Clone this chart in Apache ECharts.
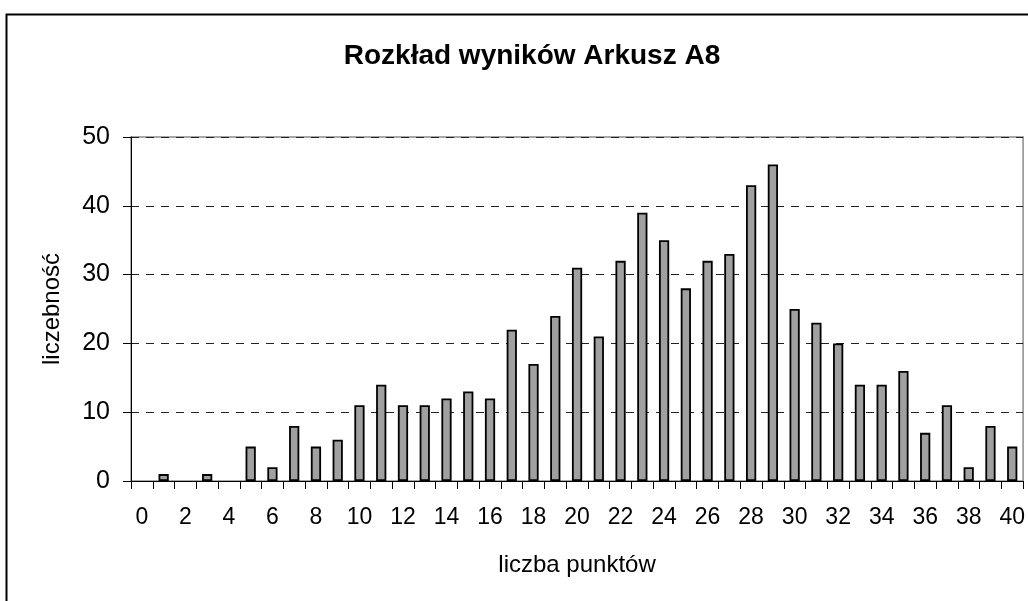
<!DOCTYPE html>
<html>
<head>
<meta charset="utf-8">
<script src="https://cdn.jsdelivr.net/npm/echarts@6/dist/echarts.min.js"></script>
<style>
html,body{margin:0;padding:0;background:#fff;}
#c{width:1028px;height:601px;}
</style>
</head>
<body>
<div id="c"></div>
<script>
const titleText = 'Rozkład wyników Arkusz A8';
const xName = 'liczba punktów';
const yName = 'liczebność';
const categories = ['0','1','2','3','4','5','6','7','8','9','10','11','12','13','14','15','16','17','18','19','20','21','22','23','24','25','26','27','28','29','30','31','32','33','34','35','36','37','38','39','40'];
const counts = [0,1,0,1,0,5,2,8,5,6,11,14,11,11,12,13,12,22,17,24,31,21,32,39,35,28,32,33,43,46,25,23,20,14,14,16,7,11,2,8,5];
const yTicks = [0,10,20,30,40,50];

const chart = echarts.init(document.getElementById('c'), null, {renderer:'canvas'});
const font = '"Liberation Sans", Arial, sans-serif';
const barData = counts.map(v => v === 0 ? {value:v, itemStyle:{borderWidth:0, opacity:0}} : v);
chart.setOption({
  animation:false,
  backgroundColor:'#fff',
  graphic:[{
    type:'rect', left:4, top:12, shape:{x:0,y:0,width:1100,height:700},
    style:{fill:'none', stroke:'#000', lineWidth:2}, z:-1
  }],
  title:{
    text:titleText, left:527, top:37, textAlign:'center',
    textStyle:{fontFamily:font, fontSize:28, fontWeight:'bold', color:'#000'}
  },
  grid:{left:131, top:137, right:4, bottom:120, show:true, borderColor:'#8c8c8c', borderWidth:1.5, backgroundColor:'transparent'},
  xAxis:{
    type:'category', data:categories,
    name:xName, nameLocation:'middle', nameGap:72,
    nameTextStyle:{fontFamily:font, fontSize:24, color:'#000'},
    axisLine:{lineStyle:{color:'#000', width:1}},
    axisTick:{show:true, interval:0, alignWithLabel:false, length:8, lineStyle:{color:'#000'}},
    axisLabel:{interval:1, margin:25, fontFamily:font, fontSize:23, color:'#000'},
    splitLine:{show:false}
  },
  yAxis:{
    type:'value', min:yTicks[0], max:yTicks[yTicks.length-1], interval:10,
    name:yName, nameLocation:'middle', nameGap:67, nameRotate:90,
    nameTextStyle:{fontFamily:font, fontSize:24, color:'#000'},
    axisLine:{show:true, lineStyle:{color:'#000', width:1}},
    axisTick:{show:true, length:8, lineStyle:{color:'#000'}},
    axisLabel:{margin:21, fontFamily:font, fontSize:25, color:'#000'},
    splitLine:{show:true, lineStyle:{color:'#222', type:[8,7], width:1}}
  },
  series:[{
    type:'bar', data:barData, barWidth:'47%',
    itemStyle:{color:'#a0a0a0', borderColor:'#000', borderWidth:1.8}
  }]
});
</script>
</body>
</html>
